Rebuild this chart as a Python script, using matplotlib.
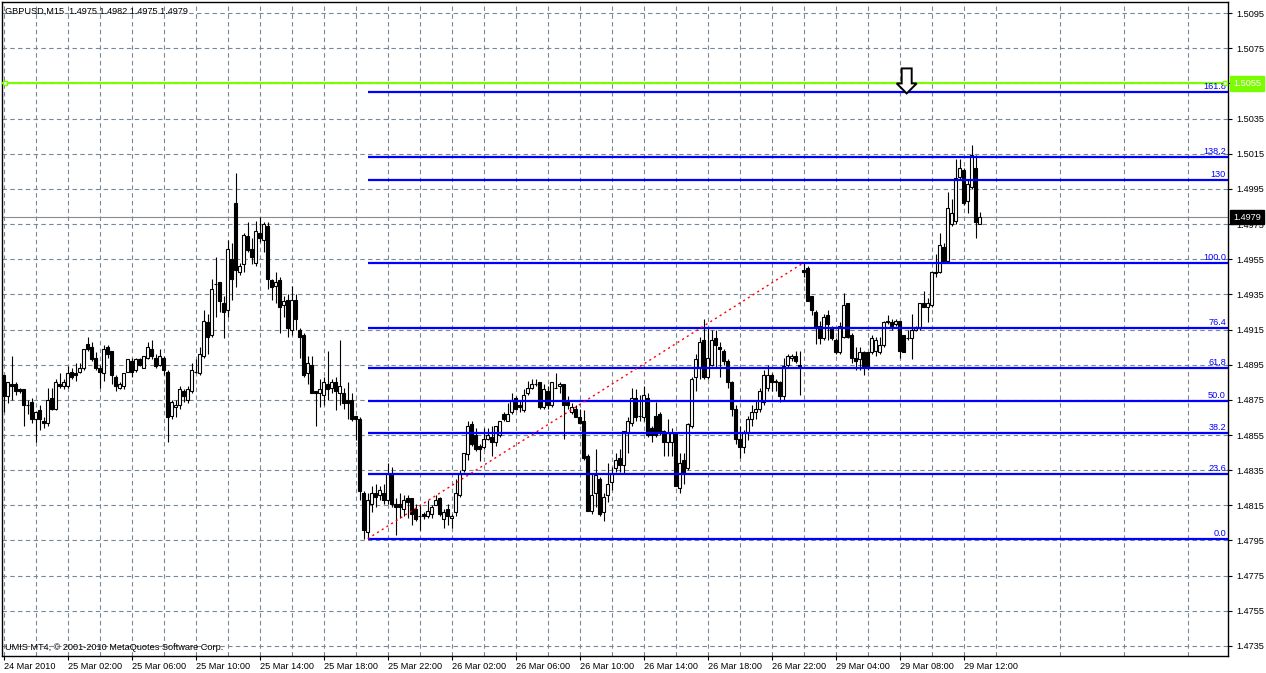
import matplotlib
matplotlib.use("Agg")
import matplotlib.pyplot as plt
import matplotlib.transforms as mtransforms
from matplotlib.patches import Polygon
import numpy as np

plt.rcParams["font.family"] = ["Liberation Sans", "DejaVu Sans"]

# ---- data (prices in 1e-4 units) ----
header = "GBPUSD,M15  1.4975 1.4982 1.4975 1.4979"
footer = "UMIS MT4, \u00a9 2001-2010 MetaQuotes Software Corp."

opens = [
    14889, 14877, 14884, 14884, 14881, 14881, 14872, 14874, 14864, 14869, 14863, 14862, 14876, 14870, 14884, 14883, 14883, 14891, 14890, 14891,
    14893, 14907, 14905, 14899, 14893, 14890, 14905, 14903, 14888, 14882, 14883, 14891, 14897, 14892, 14898, 14893, 14899, 14904, 14899, 14895,
    14899, 14891, 14866, 14871, 14872, 14880, 14875, 14880, 14891, 14890, 14900, 14919, 14912, 14941, 14942, 14930, 14926, 14955, 14987, 14948,
    14952, 14968, 14961, 14953, 14970, 14966, 14974, 14943, 14940, 14943, 14929, 14932, 14915, 14932, 14915, 14912, 14890, 14895, 14880, 14879,
    14878, 14884, 14882, 14885, 14879, 14879, 14875, 14875, 14866, 14864, 14822, 14800, 14816, 14822, 14821, 14822, 14818, 14832, 14816, 14816,
    14813, 14819, 14819, 14813, 14809, 14810, 14809, 14810, 14815, 14819, 14807, 14813, 14808, 14811, 14821, 14835, 14844, 14861, 14855, 14849,
    14848, 14853, 14854, 14851, 14855, 14867, 14863, 14868, 14876, 14872, 14869, 14879, 14882, 14884, 14885, 14871, 14880, 14872, 14882, 14883,
    14884, 14874, 14868, 14870, 14865, 14863, 14843, 14812, 14822, 14830, 14811, 14821, 14828, 14836, 14842, 14838, 14856, 14862, 14876, 14866,
    14865, 14876, 14859, 14866, 14867, 14857, 14851, 14851, 14856, 14825, 14841, 14836, 14860, 14888, 14893, 14909, 14888, 14895, 14910, 14905,
    14903, 14897, 14885, 14870, 14853, 14848, 14856, 14864, 14868, 14870, 14874, 14882, 14889, 14886, 14885, 14877, 14895, 14899, 14900, 14895,
    14949, 14950, 14934, 14925, 14917, 14910, 14923, 14916, 14909, 14902, 14911, 14930, 14912, 14899, 14898, 14902, 14902, 14902, 14903, 14902,
    14906, 14919, 14919, 14918, 14920, 14912, 14910, 14910, 14915, 14916, 14930, 14928, 14929, 14947, 14948, 14962, 14954, 14975, 14977, 15002,
    15006, 14988, 14996, 15007, 14975,
]
highs = [
    14889, 14885, 14900, 14885, 14882, 14881, 14875, 14876, 14868, 14872, 14865, 14882, 14882, 14887, 14890, 14887, 14894, 14893, 14896, 14896,
    14904, 14911, 14908, 14902, 14895, 14906, 14906, 14903, 14889, 14885, 14890, 14898, 14899, 14899, 14899, 14900, 14908, 14909, 14901, 14904,
    14900, 14892, 14875, 14875, 14883, 14881, 14883, 14896, 14898, 14905, 14926, 14924, 14944, 14956, 14942, 14934, 14966, 14964, 15004, 14953,
    14970, 14976, 14967, 14977, 14979, 14976, 14976, 14944, 14948, 14945, 14934, 14935, 14940, 14935, 14916, 14913, 14900, 14900, 14880, 14887,
    14888, 14903, 14887, 14888, 14909, 14882, 14885, 14879, 14866, 14865, 14823, 14822, 14826, 14827, 14826, 14827, 14839, 14837, 14819, 14822,
    14821, 14821, 14819, 14816, 14815, 14811, 14818, 14815, 14821, 14820, 14813, 14816, 14810, 14830, 14835, 14845, 14863, 14863, 14859, 14850,
    14859, 14859, 14860, 14860, 14863, 14868, 14873, 14879, 14877, 14875, 14881, 14886, 14887, 14887, 14885, 14884, 14883, 14885, 14890, 14885,
    14884, 14877, 14873, 14872, 14870, 14869, 14844, 14833, 14847, 14831, 14822, 14839, 14837, 14845, 14847, 14857, 14865, 14882, 14881, 14878,
    14883, 14879, 14860, 14874, 14868, 14858, 14864, 14859, 14856, 14845, 14845, 14862, 14888, 14901, 14911, 14921, 14916, 14915, 14915, 14908,
    14904, 14898, 14886, 14872, 14860, 14858, 14866, 14872, 14875, 14882, 14892, 14895, 14890, 14887, 14886, 14899, 14901, 14901, 14903, 14903,
    14953, 14951, 14934, 14926, 14920, 14924, 14926, 14917, 14910, 14919, 14936, 14930, 14913, 14905, 14905, 14903, 14902, 14912, 14911, 14911,
    14920, 14923, 14921, 14921, 14920, 14912, 14915, 14924, 14917, 14930, 14937, 14933, 14948, 14958, 14970, 14964, 14993, 14989, 15012, 15012,
    15007, 15000, 15020, 15014, 14982,
]
lows = [
    14868, 14873, 14875, 14878, 14879, 14860, 14867, 14862, 14851, 14858, 14859, 14860, 14869, 14869, 14882, 14881, 14882, 14887, 14886, 14890,
    14892, 14903, 14897, 14892, 14882, 14886, 14899, 14884, 14880, 14881, 14881, 14891, 14888, 14891, 14894, 14893, 14898, 14898, 14893, 14894,
    14889, 14851, 14864, 14865, 14870, 14874, 14873, 14879, 14890, 14889, 14899, 14901, 14911, 14922, 14925, 14910, 14922, 14932, 14939, 14946,
    14948, 14959, 14952, 14951, 14965, 14959, 14938, 14932, 14930, 14913, 14922, 14911, 14912, 14915, 14899, 14888, 14884, 14879, 14860, 14871,
    14872, 14875, 14879, 14869, 14872, 14870, 14864, 14863, 14852, 14818, 14796, 14796, 14811, 14814, 14818, 14816, 14816, 14814, 14798, 14808,
    14809, 14808, 14804, 14806, 14801, 14807, 14808, 14808, 14815, 14809, 14802, 14804, 14802, 14809, 14820, 14834, 14841, 14849, 14846, 14840,
    14847, 14852, 14843, 14849, 14854, 14863, 14863, 14867, 14869, 14868, 14868, 14878, 14881, 14883, 14870, 14870, 14870, 14871, 14882, 14879,
    14853, 14870, 14867, 14865, 14861, 14841, 14812, 14810, 14814, 14809, 14806, 14817, 14824, 14834, 14834, 14833, 14845, 14860, 14863, 14863,
    14863, 14854, 14851, 14854, 14855, 14843, 14843, 14843, 14826, 14822, 14827, 14835, 14859, 14880, 14887, 14887, 14887, 14894, 14893, 14888,
    14895, 14882, 14866, 14850, 14842, 14845, 14852, 14860, 14864, 14868, 14872, 14880, 14880, 14880, 14874, 14875, 14893, 14897, 14896, 14878,
    14945, 14931, 14923, 14907, 14907, 14909, 14909, 14909, 14901, 14901, 14910, 14910, 14896, 14892, 14892, 14889, 14892, 14901, 14900, 14901,
    14905, 14918, 14915, 14917, 14899, 14902, 14909, 14898, 14914, 14915, 14928, 14919, 14928, 14945, 14947, 14953, 14953, 14974, 14975, 15000,
    14986, 14981, 14995, 14967, 14975,
]
closes = [
    14877, 14885, 14883, 14880, 14880, 14872, 14872, 14864, 14868, 14864, 14862, 14875, 14870, 14885, 14883, 14885, 14890, 14888, 14889, 14893,
    14904, 14904, 14898, 14893, 14891, 14904, 14901, 14889, 14883, 14884, 14890, 14898, 14891, 14898, 14895, 14900, 14905, 14900, 14894, 14900,
    14892, 14865, 14874, 14872, 14881, 14877, 14881, 14892, 14891, 14901, 14920, 14911, 14938, 14941, 14931, 14925, 14961, 14944, 14949, 14951,
    14969, 14960, 14956, 14971, 14967, 14975, 14944, 14939, 14942, 14928, 14931, 14916, 14932, 14921, 14911, 14889, 14896, 14879, 14879, 14881,
    14885, 14881, 14885, 14880, 14883, 14873, 14873, 14864, 14864, 14823, 14801, 14818, 14822, 14820, 14824, 14818, 14833, 14816, 14814, 14814,
    14818, 14817, 14810, 14807, 14809, 14809, 14812, 14814, 14818, 14810, 14811, 14809, 14809, 14822, 14833, 14845, 14860, 14850, 14847, 14847,
    14853, 14855, 14851, 14860, 14863, 14864, 14867, 14875, 14870, 14871, 14878, 14882, 14884, 14884, 14871, 14881, 14872, 14885, 14882, 14884,
    14872, 14872, 14871, 14865, 14862, 14842, 14812, 14821, 14832, 14810, 14820, 14827, 14833, 14841, 14838, 14857, 14863, 14876, 14865, 14866,
    14878, 14855, 14855, 14855, 14856, 14851, 14856, 14856, 14826, 14839, 14833, 14861, 14887, 14898, 14908, 14888, 14899, 14909, 14906, 14904,
    14897, 14885, 14870, 14853, 14848, 14856, 14864, 14868, 14870, 14880, 14889, 14889, 14885, 14885, 14877, 14894, 14900, 14900, 14897, 14894,
    14948, 14931, 14926, 14916, 14910, 14922, 14918, 14910, 14902, 14917, 14929, 14911, 14899, 14897, 14902, 14893, 14893, 14910, 14909, 14906,
    14919, 14920, 14917, 14920, 14903, 14902, 14910, 14915, 14916, 14930, 14928, 14930, 14948, 14948, 14963, 14954, 14984, 14981, 15001, 15007,
    14987, 14998, 15014, 14976, 14979,
]

time_labels = [
    "24 Mar 2010", "25 Mar 02:00", "25 Mar 06:00", "25 Mar 10:00", "25 Mar 14:00",
    "25 Mar 18:00", "25 Mar 22:00", "26 Mar 02:00", "26 Mar 06:00", "26 Mar 10:00",
    "26 Mar 14:00", "26 Mar 18:00", "26 Mar 22:00", "29 Mar 04:00", "29 Mar 08:00",
    "29 Mar 12:00",
]
price_ticks = [1.4735, 1.4755, 1.4775, 1.4795, 1.4815, 1.4835, 1.4855, 1.4875, 1.4895,
               1.4915, 1.4935, 1.4955, 1.4975, 1.4995, 1.5015, 1.5035, 1.5055, 1.5075, 1.5095]

fib_start_bar = 91
fib_end_bar = 200
fib_low = 1.4796
fib_high = 1.4953
fib_ratios = [0.0, 23.6, 38.2, 50.0, 61.8, 76.4, 100.0, 130.0, 138.2, 161.8]
fib_texts = ["0.0", "23.6", "38.2", "50.0", "61.8", "76.4", "100.0", "130", "138.2", "161.8"]

hline_price = 1.5055
bid_price = 1.4979
arrow_bar = 225.75
arrow_price = 1.50493

GRID = "#778899"
GREEN = "#7CFC00"
FS = 6.6

# ---- figure ----
W, H = 1266, 673
fig = plt.figure(figsize=(W / 100, H / 100), dpi=100)
fig.patch.set_facecolor("white")
ax = fig.add_axes([2 / W, 17 / H, 1226 / W, 654 / H])

o = np.array(opens) / 1e4
h = np.array(highs) / 1e4
l = np.array(lows) / 1e4
c = np.array(closes) / 1e4
x = np.arange(len(o))
up = c >= o

ax.vlines(x, l, h, color="black", lw=0.8, zorder=3)
bottom = np.minimum(o, c)
height = np.abs(c - o)
ax.bar(x[up], height[up], bottom=bottom[up], width=0.8, facecolor="white",
       edgecolor="black", lw=0.8, zorder=4)
ax.bar(x[~up], height[~up], bottom=bottom[~up], width=0.8, facecolor="black",
       edgecolor="black", lw=0.8, zorder=4)

# fibonacci levels
xmax = 306.08
for r, t in zip(fib_ratios, fib_texts):
    lvl = fib_low + r / 100 * (fib_high - fib_low)
    ax.hlines(lvl, fib_start_bar, xmax, color="#0000FF", lw=1.6, zorder=5)
    ax.text(1.0, lvl, t, transform=ax.get_yaxis_transform()
            + mtransforms.ScaledTranslation(-0.02, 0.01, fig.dpi_scale_trans),
            ha="right", va="bottom", color="#0000FF", fontsize=FS, zorder=6)
ax.plot([fib_start_bar, fib_end_bar], [fib_low, fib_high], color="red",
        ls=(0, (1.5, 2.5)), lw=1, zorder=5)

# horizontal line, bid line
ax.axhline(hline_price, color=GREEN, lw=1.6, zorder=5)
ax.plot([0.0025, 0.9975], [hline_price, hline_price], transform=ax.get_yaxis_transform(),
        ls="none", marker="s", ms=3.5, mfc="white", mec=GREEN, mew=1, zorder=6, clip_on=False)
ax.axhline(bid_price, color="#8a8a8a", lw=0.8, zorder=2)

# arrow
px = [(0, 0), (-10, 10), (-5, 10), (-5, 25), (5, 25), (5, 10), (10, 10)]
verts = [(a / 100, b / 100) for a, b in px]
arrow = Polygon(verts, closed=True, facecolor="white", edgecolor="black", lw=1.4,
                transform=fig.dpi_scale_trans
                + mtransforms.ScaledTranslation(arrow_bar, arrow_price, ax.transData),
                zorder=7)
ax.add_artist(arrow)

# axes
ax.set_xlim(-0.425, xmax)
ax.set_ylim(1.47293, 1.51013)
ax.yaxis.tick_right()
ax.set_yticks(price_ticks)
# the 1.5055 tick label sits under the line's price box
ax.set_yticklabels(["" if abs(p - hline_price) < 1e-6 else f"{p:.4f}" for p in price_ticks])
ax.set_xticks(np.arange(len(time_labels)) * 16)
ax.set_xticklabels(time_labels)
for lab in ax.get_xticklabels():
    lab.set_ha("left")
ax.set_xticks(np.arange(8, 306, 16), minor=True)
ax.tick_params(axis="y", which="major", length=3, width=0.8, pad=3, labelsize=FS)
ax.tick_params(axis="x", which="major", length=3, width=0.8, pad=1.5, labelsize=FS)
ax.tick_params(axis="x", which="minor", length=0)
ax.grid(True, which="both", color=GRID, ls=(0, (4, 3)), lw=0.8, zorder=1)
ax.set_axisbelow(True)
for s in ax.spines.values():
    s.set_color("black")
    s.set_linewidth(1)

# price labels on the right
for price, fc in ((hline_price, GREEN), (bid_price, "black")):
    ax.text(1.0, price, f"{price:.4f}", transform=ax.get_yaxis_transform()
            + mtransforms.ScaledTranslation(0.05, 0, fig.dpi_scale_trans),
            ha="left", va="center", color="white", fontsize=FS, clip_on=False, zorder=8,
            bbox=dict(boxstyle="square,pad=0.3", facecolor=fc, edgecolor=fc))

fig.text(5 / W, 1 - 11 / H, header, ha="left", va="center", fontsize=FS)
fig.text(5 / W, 1 - 647 / H, footer, ha="left", va="center", fontsize=FS)

fig.savefig("out.png", dpi=100)
